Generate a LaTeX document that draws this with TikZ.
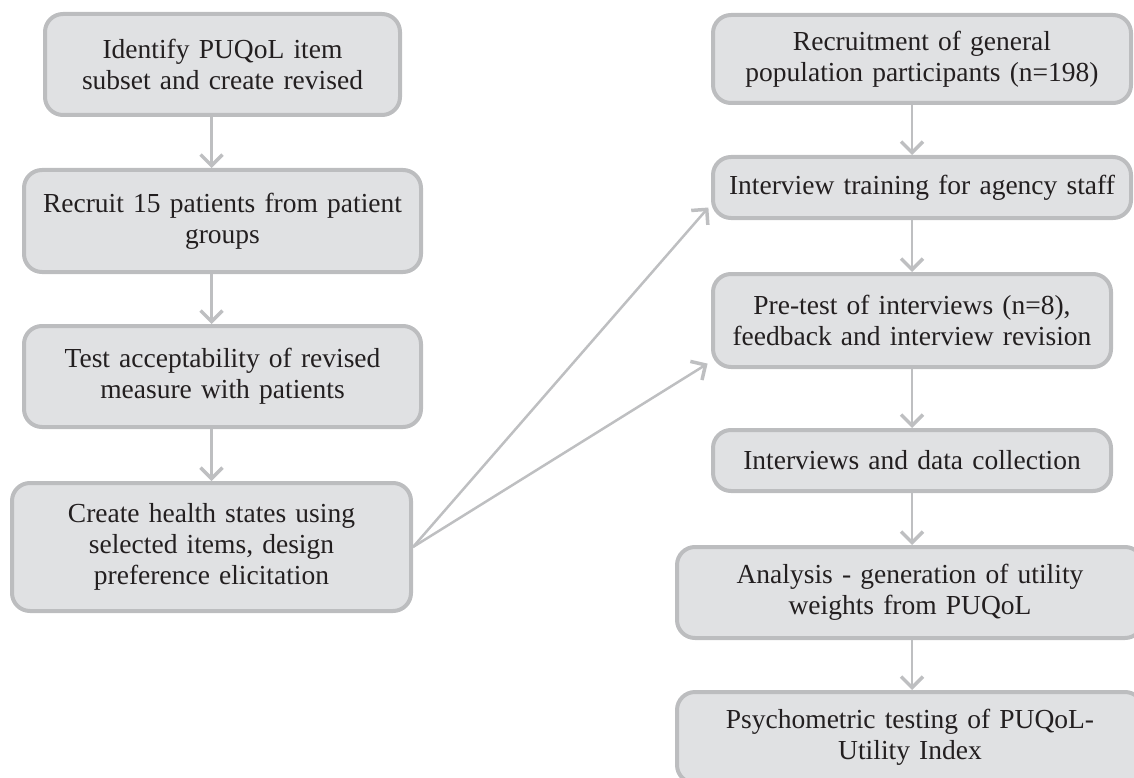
\documentclass[tikz,border=0pt]{standalone}
\usepackage{fontspec}
\setmainfont{Liberation Serif}
\usepackage{xcolor}
\usetikzlibrary{arrows.meta,positioning}
\definecolor{boxfill}{RGB}{224,225,227}
\definecolor{boxline}{RGB}{188,189,191}
\definecolor{arrowgrey}{RGB}{190,191,193}
\definecolor{inktext}{RGB}{35,31,32}

\begin{document}
\begin{tikzpicture}[
  x=1pt, y=1pt,
  node distance=51pt,
  stagebox/.style={draw=boxline, fill=boxfill, line width=4pt, rounded corners=18pt, align=center, inner sep=5pt, text=inktext, font=\fontsize{27.5}{31}\selectfont},
  arrow/.style={draw=arrowgrey, line width=2.5pt, -{Straight Barb[length=11pt, width=22pt, line width=3.5pt]}}
]
\clip (0,0) rectangle (1134,-778);
% patient side
\node[stagebox, text width=345pt, minimum height=101pt] (s1) at (222.5,-64.5) {Identify PUQoL item\\subset and create revised};
\node[stagebox, below=of s1, text width=387pt, minimum height=102pt] (s2) {Recruit 15 patients from patient\\groups};
\node[stagebox, below=50pt of s2, text width=387pt, minimum height=101pt] (s3) {Test acceptability of revised\\measure with patients};
\node[stagebox, below=52pt of s3, xshift=-11pt, text width=389pt, minimum height=128pt] (s4) {Create health states using\\selected items, design\\preference elicitation};
% general population side
\node[stagebox, text width=408pt, minimum height=88pt] (r1) at (922,-59) {Recruitment of general\\population participants (n=198)};
\node[stagebox, below=50pt of r1, text width=408pt, minimum height=61pt] (r2) {Interview training for agency staff};
\node[stagebox, below=52pt of r2, xshift=-10pt, text width=388pt, minimum height=93pt] (r3) {Pre-test of interviews (n=8),\\feedback and interview revision};
\node[stagebox, below=59pt of r3, text width=388pt, minimum height=61pt] (r4) {Interviews and data collection};
\node[stagebox, below=52pt of r4, xshift=-2pt, text width=456pt, minimum height=91pt] (r5) {Analysis - generation of utility\\weights from PUQoL};
\node[stagebox, below=50pt of r5, text width=456pt, minimum height=91pt] (r6) {Psychometric testing of PUQoL-\\Utility Index};

\foreach \a/\b in {s1/s2,s2/s3,s3/s4}{\draw[arrow] (\a.south -| s4) -- (\b.north -| s4);}
\foreach \a/\b in {r1/r2,r2/r3,r3/r4,r4/r5,r5/r6}{\draw[arrow] (\a.south -| r3) -- (\b.north -| r3);}
\draw[arrow, shorten >=4pt] (s4.east) -- ([yshift=-17pt]r2.west);
\draw[arrow, shorten >=4pt] (s4.east) -- ([yshift=-41pt]r3.west);
\end{tikzpicture}
\end{document}
